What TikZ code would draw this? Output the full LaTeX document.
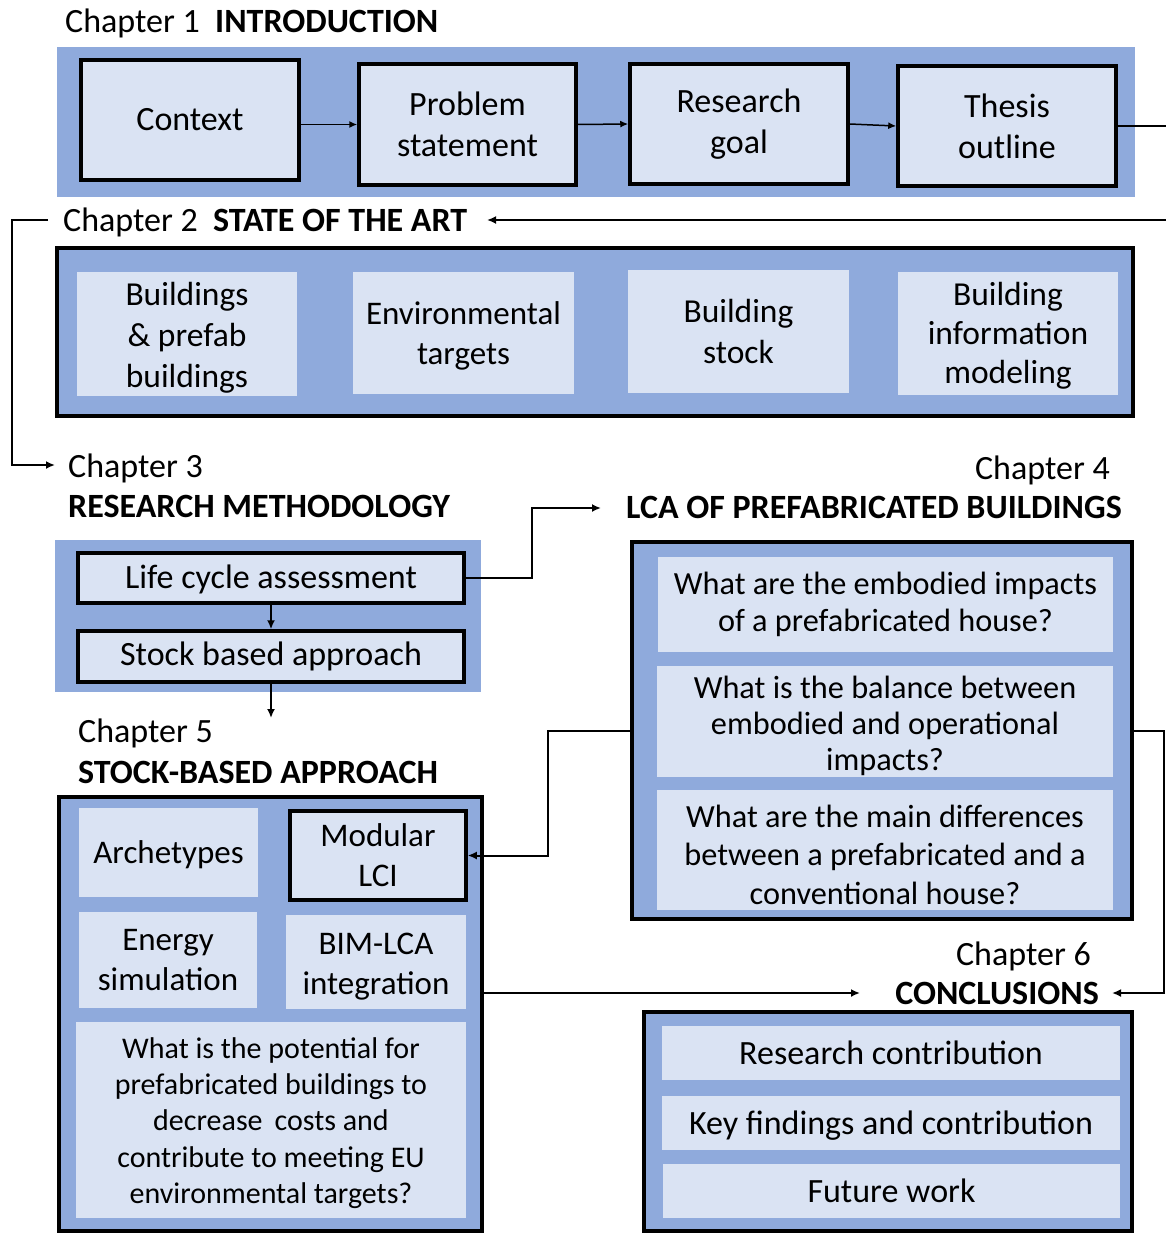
\documentclass[tikz,border=0pt]{standalone}
\usepackage{fontspec}
\setmainfont{Carlito}
\usetikzlibrary{arrows.meta}
\definecolor{midblue}{HTML}{8FAADC}
\definecolor{paleblue}{HTML}{DAE3F3}
\begin{document}
\begin{tikzpicture}[x=1pt,y=-1pt,
  sz/.style 2 args={minimum width=#1pt, minimum height=#2pt},
  band/.style={fill=midblue, inner sep=0pt},
  frame/.style={band, draw=black, line width=4pt},
  card/.style={fill=paleblue, align=center, inner sep=0pt,
    font=\fontsize{34}{41}\selectfont},
  boxed/.style={card, draw=black, line width=3.5pt},
  query/.style={card, font=\fontsize{32.3}{37.5}\selectfont},
  title/.style={inner sep=0pt, font=\fontsize{34}{40}\selectfont},
  link/.style={line width=2pt, -{Latex[length=9pt,width=8pt]}},
  thinlink/.style={line width=1.5pt, -{Latex[length=8pt,width=7pt]}}
]
\useasboundingbox (0,0) rectangle (1166,1234);

% ---------- Chapter 1 ----------
\node[title, anchor=base west] (ch1lab) at (65,32)
  {Chapter 1\hspace{0.45em}\textbf{INTRODUCTION}};
\node[band, sz={1078}{150}] (ch1) at (596,122) {};
\node[boxed, sz={218}{120}] (ctx) at (190,120) {Context};
\node[boxed, sz={217}{121}] (prob) at (467.5,124.5) {Problem\\statement};
\node[boxed, sz={218}{120}] (goal) at (739,124) {Research\\goal};
\node[boxed, sz={218}{120}] (thesis) at (1007,126) {Thesis\\outline};
\draw[thinlink] (ctx.east |- prob.west) -- (prob.west);
\draw[thinlink] (prob.east) -- (goal.west);
\draw[thinlink] (goal.east) -- (thesis.west);

% ---------- Chapter 2 ----------
\node[title, anchor=base west] (ch2lab) at (63,231)
  {Chapter 2\hspace{0.45em}\textbf{STATE OF THE ART}};
\node[frame, sz={1076}{168}] (ch2) at (595,332) {};
\node[card, sz={220}{124}, font=\fontsize{33.5}{41}\selectfont] (bld) at (187,334)
  {\rule{0pt}{31pt}Buildings\\\& prefab\\buildings};
\node[card, sz={221}{122}, font=\fontsize{33}{40}\selectfont] (env) at (463.5,333)
  {\rule{0pt}{28pt}Environmental\\targets};
\node[card, sz={221}{123}, font=\fontsize{33.5}{41}\selectfont] (stock) at (738.5,331.5)
  {Building\\stock};
\node[card, sz={220}{123}, font=\fontsize{33.5}{39}\selectfont] (bim) at (1008,333.5)
  {\rule{0pt}{28pt}Building\\information\\modeling};

\coordinate (e1) at (1167,220);
\coordinate (ch2in) at (487,220);
\draw[link] (thesis.east) -| (e1) -- (ch2in);

% ---------- Chapter 3 ----------
\node[title, anchor=base west] (ch3a) at (68,477) {Chapter 3};
\node[title, anchor=base west] (ch3b) at (68,517) {\textbf{RESEARCH METHODOLOGY}};
\node[band, sz={426}{152}] (ch3) at (268,616) {};
\node[boxed, sz={386}{50}] (lca) at (271,578) {\rule{0pt}{27pt}Life cycle assessment};
\node[boxed, sz={386}{51}] (sba) at (271,656.5) {Stock based approach};
\draw[link] (lca.south) -- (sba.north);

\coordinate (ch2out) at (48,220);
\coordinate (w1) at (12,465);
\coordinate (ch3in) at (55,465);
\draw[link] (ch2out) -| (w1) -- (ch3in);

% ---------- Chapter 4 ----------
\node[title, anchor=base east] (ch4a) at (1110,479) {Chapter 4};
\node[title, anchor=base east] (ch4b) at (1122,518)
  {\textbf{LCA OF PREFABRICATED BUILDINGS}};
\node[frame, sz={500}{377}] (ch4) at (882,730.5) {};
\node[query, sz={455}{95}] (q1) at (885.5,604.5)
  {What are the embodied impacts\\of a prefabricated house?};
\node[query, sz={456}{111}, font=\fontsize{32.3}{36}\selectfont] (q2) at (885,721.5)
  {\rule{0pt}{31pt}What is the balance between\\embodied and operational\\impacts?};
\node[query, sz={456}{120}, font=\fontsize{32.3}{38.5}\selectfont] (q3) at (885,850)
  {\rule{0pt}{32pt}What are the main differences\\between a prefabricated and a\\conventional house?};

\coordinate (m1) at (532,508);
\coordinate (ch4in) at (601,508);
\draw[link] (lca.east) -| (m1) -- (ch4in);

% ---------- Chapter 5 ----------
\node[title, anchor=base west] (ch5a) at (78,742) {Chapter 5};
\node[title, anchor=base west] (ch5b) at (78,783) {\textbf{STOCK-BASED APPROACH}};
\node[frame, sz={423}{434}] (ch5) at (270.5,1014) {};
\node[card, sz={179}{89}, font=\fontsize{33}{40}\selectfont] (arch) at (168.5,852.5)
  {\rule{0pt}{27pt}Archetypes};
\node[boxed, sz={176}{89}, font=\fontsize{33}{40}\selectfont] (mod) at (378,855.5)
  {Modular\\LCI};
\node[card, sz={178}{96}, font=\fontsize{33}{40}\selectfont] (energy) at (168,960)
  {Energy\\simulation};
\node[card, sz={180}{94}, font=\fontsize{33}{40}\selectfont] (bimlca) at (376,962)
  {\rule{0pt}{30pt}BIM-LCA\\integration};
\node[query, sz={390}{196}, font=\fontsize{30}{36.3}\selectfont] (q5) at (271,1120)
  {\rule{0pt}{27pt}What is the potential for\\prefabricated buildings to\\decrease\hspace{0.4em}costs and\\contribute to meeting EU\\environmental targets?};

\draw[link] (sba.south) -- (271,718) coordinate (ch5in);
\coordinate (k2) at (548,855.5);
\draw[link] (ch4.west) -| (k2) -- (mod.east);

% ---------- Chapter 6 ----------
\node[title, anchor=base east] (ch6a) at (1091,965) {Chapter 6};
\node[title, anchor=base east] (ch6b) at (1099,1004) {\textbf{CONCLUSIONS}};
\node[frame, sz={488}{219}] (ch6) at (888,1121.5) {};
\node[card, sz={458}{54}] (rc) at (891,1053) {Research contribution};
\node[card, sz={458}{54}] (kf) at (891,1123) {\rule{0pt}{28pt}Key findings and contribution};
\node[card, sz={457}{54}] (fw) at (891.5,1191) {Future work};

\coordinate (k3) at (1164,993);
\coordinate (ch6in) at (1112,993);
\draw[link] (ch4.east) -| (k3) -- (ch6in);
\coordinate (ch6in2) at (860,993);
\draw[link] (ch5.east |- ch6in2) -- (ch6in2);
\end{tikzpicture}
\end{document}
